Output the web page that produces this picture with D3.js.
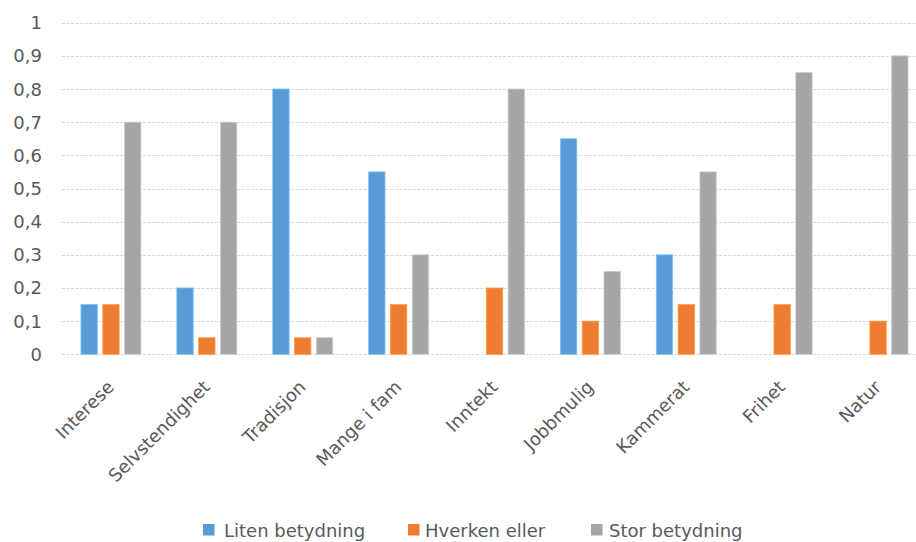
<!DOCTYPE html>
<html><head><meta charset="utf-8">
<script src="https://cdn.jsdelivr.net/npm/d3@7"></script>
<style>
body{margin:0;background:#fff;}
svg text{font-family:"DejaVu Sans",sans-serif;fill:#595959;}
</style></head>
<body><svg id="c" width="916" height="542"></svg>
<script>
const categories = ["Interese","Selvstendighet","Tradisjon","Mange i fam","Inntekt","Jobbmulig","Kammerat","Frihet","Natur"];
const seriesNames = ["Liten betydning","Hverken eller","Stor betydning"];
const liten   = [0.15,0.20,0.80,0.55,0,0.65,0.30,0,0];
const hverken = [0.15,0.05,0.05,0.15,0.20,0.10,0.15,0.15,0.10];
const stor    = [0.70,0.70,0.05,0.30,0.80,0.25,0.55,0.85,0.90];
const yTicks  = [0,0.1,0.2,0.3,0.4,0.5,0.6,0.7,0.8,0.9,1];
const colors  = ["#5B9BD5","#ED7D31","#A5A5A5"];

const seriesValues = [liten, hverken, stor];
const svg = d3.select("#c");
const y = d3.scaleLinear().domain([0,1]).range([354.3,22.7]);
const x = d3.scaleBand().domain(categories).range([63,926]).paddingInner(0.375).paddingOuter(0.1875);
const xs = d3.scaleBand().domain(seriesNames).range([0,x.bandwidth()]).paddingInner(0.25);

const fmt = v => String(+v.toFixed(1)).replace(".",",");

// gridlines
svg.append("g").selectAll("line").data(yTicks).join("line")
  .attr("x1",62).attr("x2",916)
  .attr("y1",d=>Math.round(y(d))+0.5).attr("y2",d=>Math.round(y(d))+0.5)
  .attr("stroke","#D9D9D9").attr("stroke-width",1.2).attr("stroke-dasharray","3,1.5");

// y labels
svg.append("g").selectAll("text").data(yTicks).join("text")
  .attr("x",42).attr("y",d=>y(d)).attr("dy","0.36em")
  .attr("text-anchor","end").attr("font-size",18).text(fmt);

// bars
const g = svg.append("g");
seriesValues.forEach((vals,si)=>{
  g.append("g").selectAll("rect").data(vals).join("rect")
    .attr("x",(d,i)=>x(categories[i])+xs(seriesNames[si]))
    .attr("width",xs.bandwidth())
    .attr("y",d=>y(d))
    .attr("height",d=>y(0)-y(d))
    .attr("fill",colors[si])
    .attr("stroke",d3.color(colors[si]).brighter(0.6))
    .attr("stroke-width",0.8);
});

// x labels
svg.append("g").selectAll("text").data(categories).join("text")
  .attr("transform",d=>`translate(${x(d)+x.bandwidth()/2-5},${379}) rotate(-45)`)
  .attr("dy","0.72em")
  .attr("text-anchor","end").attr("font-size",18).text(d=>d);

// legend
const legRect = [203,408,591];
const legText = [224,425,609];
const lg = svg.append("g");
seriesNames.forEach((n,i)=>{
  lg.append("rect").attr("x",legRect[i]).attr("y",524).attr("width",11.5).attr("height",11.5).attr("fill",colors[i]);
  lg.append("text").attr("x",legText[i]).attr("y",536.5).attr("font-size",18).text(n);
});
</script></body></html>
